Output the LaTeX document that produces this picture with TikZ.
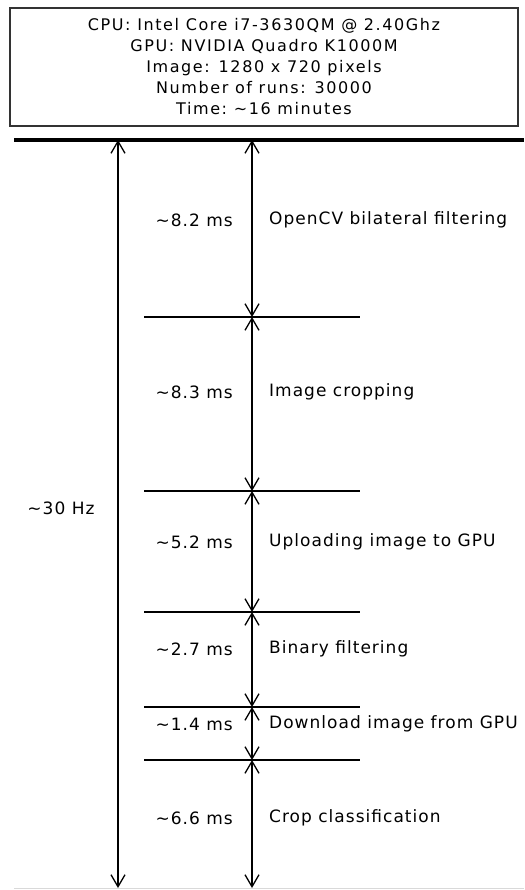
\documentclass[tikz,border=0pt]{standalone}
\usepackage{fontspec}
\setmainfont{DejaVu Sans}
\newfontfamily\labfont[LetterSpace=6]{DejaVu Sans}
\newfontfamily\boxfont[LetterSpace=10]{DejaVu Sans}
\usetikzlibrary{arrows.meta}
\begin{document}
\begin{tikzpicture}[x=1pt,y=-1pt,
  lab/.style={font=\labfont\fontsize{17}{20}\selectfont, inner sep=0pt},
  barb/.tip={Straight Barb[length=12pt,width=14pt,line width=1.3pt]},
  dim/.style={line width=1.3pt, barb-barb},
  sep/.style={line width=1.3pt},
  infobox/.style={draw=black!80, line width=1.3pt, minimum width=508pt, minimum height=118pt,
    align=center, font=\boxfont\fontsize{16}{21}\selectfont, inner sep=0pt}]
\useasboundingbox (0,0) rectangle (524,890);
\fill[white] (0,0) rectangle (524,890);

% info box
\node[infobox] (info) at (264,67) {CPU: Intel Core i7-3630QM @ 2.40Ghz\\
GPU: NVIDIA Quadro K1000M\\
Image: 1280 x 720 pixels\\
Number of runs: 30000\\
Time:\ \textasciitilde16 minutes};

% top thick bar and bottom line
\coordinate (tl) at (14,140);
\coordinate (tr) at (524,140);
\draw[line width=4.3pt] (tl) -- (tr);
\coordinate (bl) at (14,888);
\coordinate (br) at (524,888);
\draw[black!15, line width=1pt] (bl) -- (br);

% total arrow
\coordinate (L0) at (118,140);
\coordinate (L1) at (118,888);
\draw[dim] (L0) -- (L1);
\node[lab] (hz) at (61,508) {\textasciitilde30 Hz};

% boundaries on the middle axis
\coordinate (b0) at (252,140);
\coordinate (b1) at (252,317);
\coordinate (b2) at (252,491);
\coordinate (b3) at (252,612);
\coordinate (b4) at (252,707);
\coordinate (b5) at (252,760);
\coordinate (b6) at (252,888);

\foreach \i in {1,...,5}{
  \coordinate (s\i l) at (144,0 |- b\i);
  \coordinate (s\i r) at (360,0 |- b\i);
  \draw[sep] (s\i l) -- (s\i r);
}

\draw[dim] (b0) -- (b1);
\draw[dim] (b1) -- (b2);
\draw[dim] (b2) -- (b3);
\draw[dim] (b3) -- (b4);
\draw[dim] (b4) -- (b5);
\draw[dim] (b5) -- (b6);

% labels
\node[lab, anchor=east] (t1) at (233,220) {\textasciitilde8.2 ms};
\node[lab, anchor=west] (n1) at (269,220) {OpenCV bilateral filtering};
\node[lab, anchor=east] (t2) at (233,392) {\textasciitilde8.3 ms};
\node[lab, anchor=west] (n2) at (269,392) {Image cropping};
\node[lab, anchor=east] (t3) at (233,542) {\textasciitilde5.2 ms};
\node[lab, anchor=west] (n3) at (269,542) {Uploading image to GPU};
\node[lab, anchor=east] (t4) at (233,649) {\textasciitilde2.7 ms};
\node[lab, anchor=west] (n4) at (269,649) {Binary filtering};
\node[lab, anchor=east] (t5) at (233,724) {\textasciitilde1.4 ms};
\node[lab, anchor=west] (n5) at (269,724) {Download image from GPU};
\node[lab, anchor=east] (t6) at (233,818) {\textasciitilde6.6 ms};
\node[lab, anchor=west] (n6) at (269,818) {Crop classification};
\end{tikzpicture}
\end{document}
